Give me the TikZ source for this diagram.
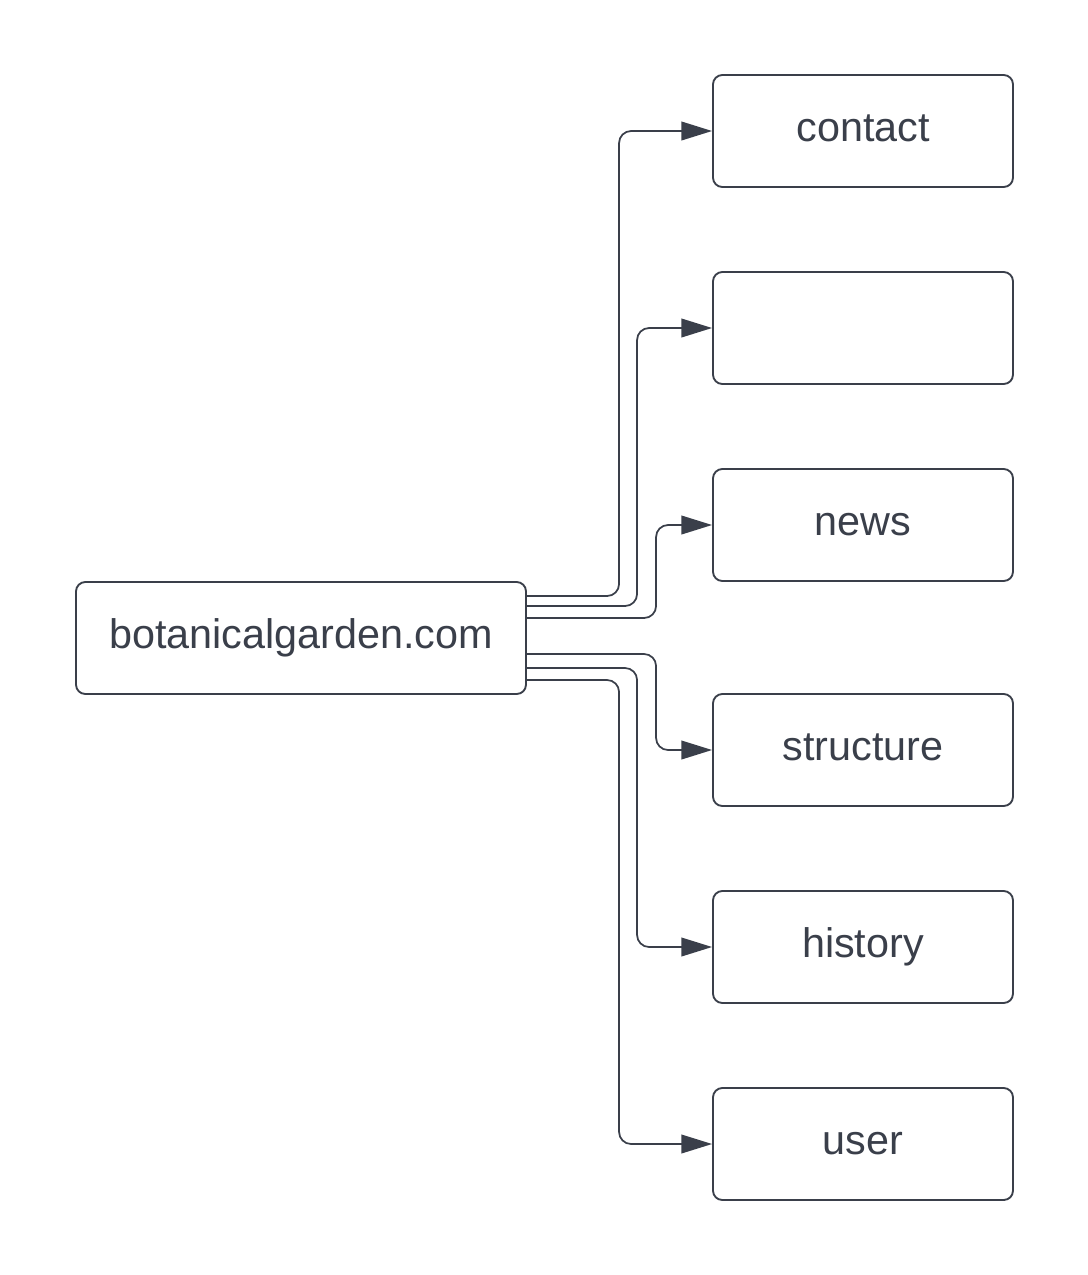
\documentclass[tikz,border=0pt]{standalone}
\usepackage{fontspec}
\setmainfont{Liberation Sans}
\definecolor{lcInk}{RGB}{58, 63, 74}
\usetikzlibrary{arrows.meta, positioning, calc}
\tikzset{
  sitebox/.style={rectangle, rounded corners=7pt, draw=lcInk, line width=1.4pt, minimum width=337.5pt, minimum height=84pt, text height=23pt, text depth=7pt, font=\fontsize{31}{37}\selectfont, text=lcInk},
  pagebox/.style={rectangle, rounded corners=7pt, draw=lcInk, line width=1.4pt, minimum width=225pt, minimum height=84pt, text height=23pt, text depth=7pt, font=\fontsize{31}{37}\selectfont, text=lcInk},
  linkarrow/.style={-{Triangle[length=23pt, width=14pt]}, line width=1.3pt, lcInk, rounded corners=9pt},
}
\begin{document}
\begin{tikzpicture}[x=0.75pt, y=-0.75pt]
  \useasboundingbox (0,0) rectangle (1088,1275);
  % Root
  \node[sitebox] (site) at (301, 638) {botanicalgarden.com};

  % Pages
  \node[pagebox] (contact) at (863, 131) {contact};
  \node[pagebox] (blank) at (863, 328) {};
  \node[pagebox] (news) at (863, 525) {news};
  \node[pagebox] (structure) at (863, 750) {structure};
  \node[pagebox] (history) at (863, 947) {history};
  \node[pagebox] (user) at (863, 1144) {user};

  % Arrows
  \draw[linkarrow] ($(site.east)+(0,-42)$) -| ($(contact.west)+(-93,0)$) -- (contact.west);
  \draw[linkarrow] ($(site.east)+(0,-32)$) -| ($(blank.west)+(-75,0)$) -- (blank.west);
  \draw[linkarrow] ($(site.east)+(0,-20)$) -| ($(news.west)+(-56,0)$) -- (news.west);
  \draw[linkarrow] ($(site.east)+(0,16)$) -| ($(structure.west)+(-56,0)$) -- (structure.west);
  \draw[linkarrow] ($(site.east)+(0,30)$) -| ($(history.west)+(-75,0)$) -- (history.west);
  \draw[linkarrow] ($(site.east)+(0,42)$) -| ($(user.west)+(-93,0)$) -- (user.west);
\end{tikzpicture}
\end{document}
